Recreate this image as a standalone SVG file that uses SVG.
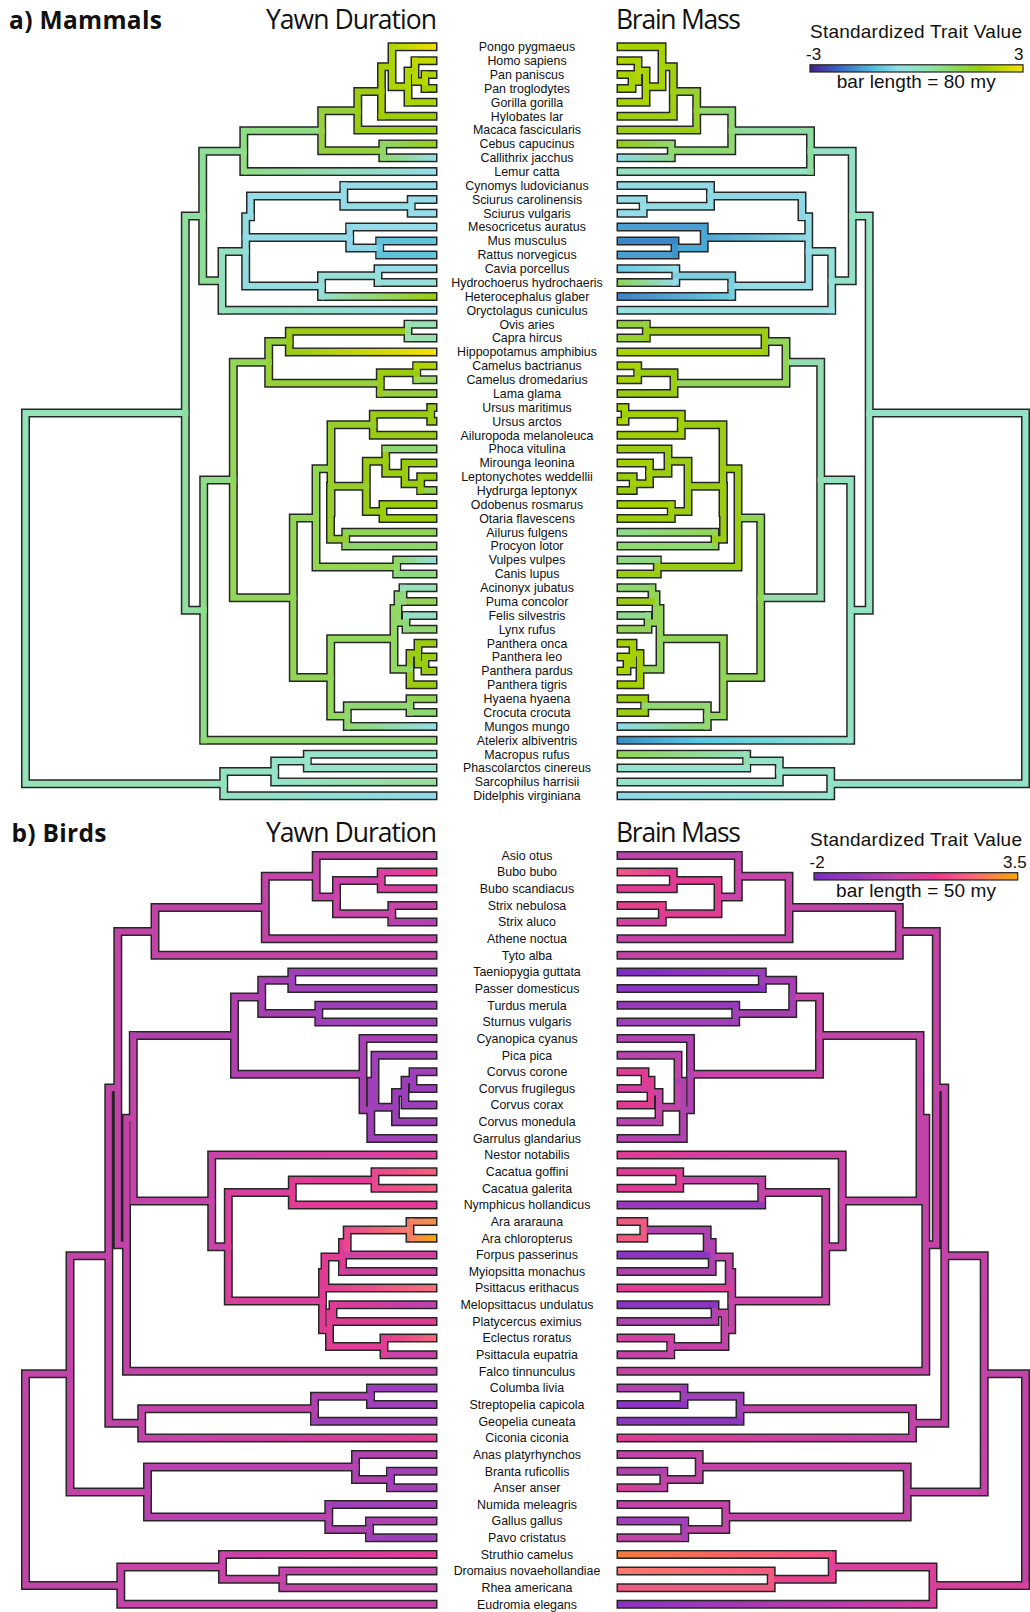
<svg xmlns="http://www.w3.org/2000/svg" width="1030" height="1612" viewBox="0 0 1030 1612">
<style>
.o{fill:none;stroke:#262626;stroke-width:9;stroke-linecap:square}
.c path{fill:none;stroke-width:6;stroke-linecap:square}
.lab text{font-family:"Liberation Sans",Arial,sans-serif;font-size:12.4px;text-anchor:middle;fill:#111}
.ttl{font-family:"Open Sans","DejaVu Sans",sans-serif;font-size:26.5px;fill:#111}
.bold{font-family:"Open Sans","DejaVu Sans",sans-serif;font-weight:700;font-size:24.5px;fill:#111}
.leg{font-family:"Liberation Sans",Arial,sans-serif;font-size:19px;fill:#111}
.num{font-family:"Liberation Sans",Arial,sans-serif;font-size:17px;fill:#111}
</style>
<defs>
<linearGradient id="gm"><stop offset="0" stop-color="#46208c"/><stop offset="0.15" stop-color="#3b6cc4"/><stop offset="0.3" stop-color="#55bfdc"/><stop offset="0.42" stop-color="#95dfe6"/><stop offset="0.55" stop-color="#8fe3b0"/><stop offset="0.68" stop-color="#8cd860"/><stop offset="0.8" stop-color="#9acc10"/><stop offset="0.9" stop-color="#c8d800"/><stop offset="1" stop-color="#f5e100"/></linearGradient>
<linearGradient id="gbird"><stop offset="0" stop-color="#7a2dc0"/><stop offset="0.25" stop-color="#a040b8"/><stop offset="0.45" stop-color="#c844a8"/><stop offset="0.6" stop-color="#e8388e"/><stop offset="0.78" stop-color="#f8687a"/><stop offset="1" stop-color="#f5a800"/></linearGradient>
<linearGradient id="gl1"><stop offset="0" stop-color="#aed400"/><stop offset="1" stop-color="#f2df00"/></linearGradient>
<linearGradient id="gl2"><stop offset="0" stop-color="#90d668"/><stop offset="1" stop-color="#9acc14"/></linearGradient>
<linearGradient id="gl3"><stop offset="0" stop-color="#90d668"/><stop offset="1" stop-color="#95dde8"/></linearGradient>
<linearGradient id="gl4"><stop offset="0" stop-color="#8fdc84"/><stop offset="1" stop-color="#95dde8"/></linearGradient>
<linearGradient id="gl5"><stop offset="0" stop-color="#95dfd0"/><stop offset="1" stop-color="#9acc10"/></linearGradient>
<linearGradient id="gl6"><stop offset="0" stop-color="#92e0b8"/><stop offset="1" stop-color="#95dde8"/></linearGradient>
<linearGradient id="gl7"><stop offset="0" stop-color="#9acc14"/><stop offset="1" stop-color="#f5e000"/></linearGradient>
<linearGradient id="gl8"><stop offset="0" stop-color="#8fd86a"/><stop offset="1" stop-color="#95dde0"/></linearGradient>
<linearGradient id="gl9"><stop offset="0" stop-color="#8fd870"/><stop offset="1" stop-color="#95dde8"/></linearGradient>
<linearGradient id="gl10"><stop offset="0" stop-color="#95e3c8"/><stop offset="1" stop-color="#9adc98"/></linearGradient>
<linearGradient id="gl11"><stop offset="0" stop-color="#93e2c0"/><stop offset="1" stop-color="#8ed8e8"/></linearGradient>
<linearGradient id="gr1"><stop offset="0" stop-color="#9acc10"/><stop offset="1" stop-color="#8fd870"/></linearGradient>
<linearGradient id="gr2"><stop offset="0" stop-color="#8ed8e8"/><stop offset="1" stop-color="#90d890"/></linearGradient>
<linearGradient id="gr3"><stop offset="0" stop-color="#8fd456"/><stop offset="1" stop-color="#95dde8"/></linearGradient>
<linearGradient id="gr4"><stop offset="0" stop-color="#3f80c4"/><stop offset="1" stop-color="#70cce0"/></linearGradient>
<linearGradient id="gr5"><stop offset="0" stop-color="#3a8fc4"/><stop offset="0.35" stop-color="#5cc8e0"/><stop offset="1" stop-color="#95e3d0"/></linearGradient>
<linearGradient id="gr6"><stop offset="0" stop-color="#8fdc90"/><stop offset="1" stop-color="#92d456"/></linearGradient>
<linearGradient id="gr7"><stop offset="0" stop-color="#8ed8e8"/><stop offset="1" stop-color="#92d870"/></linearGradient>
<linearGradient id="gr8"><stop offset="0" stop-color="#92d456"/><stop offset="1" stop-color="#95e0c0"/></linearGradient>
<linearGradient id="gr9"><stop offset="0" stop-color="#8ed8e8"/><stop offset="1" stop-color="#95e3cc"/></linearGradient>
<linearGradient id="gr10"><stop offset="0" stop-color="#6cc8e0"/><stop offset="1" stop-color="#95dde8"/></linearGradient>
<linearGradient id="gr11"><stop offset="0" stop-color="#4aa8d4"/><stop offset="1" stop-color="#8ed8e6"/></linearGradient>
<linearGradient id="gb1"><stop offset="0" stop-color="#d840a0"/><stop offset="1" stop-color="#ec3c8e"/></linearGradient>
<linearGradient id="gb2"><stop offset="0" stop-color="#c844a8"/><stop offset="1" stop-color="#e0409a"/></linearGradient>
<linearGradient id="gb3"><stop offset="0" stop-color="#e84890"/><stop offset="1" stop-color="#f5607a"/></linearGradient>
<linearGradient id="gb4"><stop offset="0" stop-color="#e84890"/><stop offset="1" stop-color="#f25c80"/></linearGradient>
<linearGradient id="gb5"><stop offset="0" stop-color="#e84890"/><stop offset="1" stop-color="#f5806a"/></linearGradient>
<linearGradient id="gb6"><stop offset="0" stop-color="#f5806a"/><stop offset="1" stop-color="#f29040"/></linearGradient>
<linearGradient id="gb7"><stop offset="0" stop-color="#f5806a"/><stop offset="1" stop-color="#f5a800"/></linearGradient>
<linearGradient id="gb8"><stop offset="0" stop-color="#e03c94"/><stop offset="1" stop-color="#f5707a"/></linearGradient>
<linearGradient id="gb9"><stop offset="0" stop-color="#e03c94"/><stop offset="1" stop-color="#b842ae"/></linearGradient>
<linearGradient id="gb10"><stop offset="0" stop-color="#e03c94"/><stop offset="1" stop-color="#f5687a"/></linearGradient>
<linearGradient id="gb11"><stop offset="0" stop-color="#c244a8"/><stop offset="1" stop-color="#e03c94"/></linearGradient>
<linearGradient id="gb12"><stop offset="0" stop-color="#c844a8"/><stop offset="1" stop-color="#e03c94"/></linearGradient>
<linearGradient id="gc1"><stop offset="0" stop-color="#f05a86"/><stop offset="1" stop-color="#e03c94"/></linearGradient>
<linearGradient id="gc2"><stop offset="0" stop-color="#7a2dbf"/><stop offset="1" stop-color="#9c3eba"/></linearGradient>
<linearGradient id="gc3"><stop offset="0" stop-color="#e03c94"/><stop offset="1" stop-color="#c844a8"/></linearGradient>
<linearGradient id="gc4"><stop offset="0" stop-color="#e03c94"/><stop offset="1" stop-color="#c244a8"/></linearGradient>
<linearGradient id="gc5"><stop offset="0" stop-color="#e03c94"/><stop offset="1" stop-color="#c044a8"/></linearGradient>
<linearGradient id="gc6"><stop offset="0" stop-color="#f27a40"/><stop offset="1" stop-color="#f0508a"/></linearGradient>
<linearGradient id="gc7"><stop offset="0" stop-color="#fb7a6a"/><stop offset="1" stop-color="#f05a80"/></linearGradient>
<linearGradient id="gc8"><stop offset="0" stop-color="#8a35c0"/><stop offset="1" stop-color="#d040a0"/></linearGradient>
</defs>
<rect width="1030" height="1612" fill="#fff"/>

<g id="titles">
<text class="bold" x="9" y="29" textLength="153">a) Mammals</text>
<text class="ttl" x="266" y="29.3" textLength="171">Yawn Duration</text>
<text class="ttl" x="616" y="29.3" textLength="125">Brain Mass</text>
<text class="bold" x="11.5" y="841.5" textLength="95">b) Birds</text>
<text class="ttl" x="266" y="841.7" textLength="171">Yawn Duration</text>
<text class="ttl" x="616" y="841.7" textLength="125">Brain Mass</text>
</g>

<g id="legend-mammals">
<text class="leg" x="810" y="37.5" textLength="212">Standardized Trait Value</text>
<text class="num" x="806" y="60">-3</text>
<text class="num" x="1023.5" y="60" text-anchor="end">3</text>
<rect x="810" y="64.8" width="213" height="7.2" fill="url(#gm)" stroke="#222" stroke-width="1.2"/>
<text class="leg" x="836.7" y="88.3" textLength="159">bar length = 80 my</text>
</g>
<g id="legend-birds">
<text class="leg" x="810" y="846" textLength="212">Standardized Trait Value</text>
<text class="num" x="809.5" y="868.3">-2</text>
<text class="num" x="1026.7" y="868.3" text-anchor="end">3.5</text>
<rect x="814" y="872.7" width="203.7" height="7.3" fill="url(#gbird)" stroke="#222" stroke-width="1.2"/>
<text class="leg" x="836" y="896.7" textLength="160">bar length = 50 my</text>
</g>

<g id="connectors">
<g id="tree-mammals-yawn">
<path class="o" d="M425 74.5V88.4M415 60.7V81.5M408 71.1V102.3M392 46.8V86.7M381.5 66.75V116.2M357.8 91.5V130M382.8 143.9V157.8M321.7 110.75V150.85M243.8 130.8V171.6M411.2 199.4V213.2M343.8 185.5V206.3M379.7 241V254.9M349.7 227.1V247.95M250.5 195.9V216.7M378 268.7V282.6M321.5 275.65V296.5M245.7 216.7V286.1M222 251.4V310.3M202.7 151.2V280.85M408 324.2V338.1M289.3 331.15V351.9M416.7 365.8V379.7M380.3 372.75V393.6M268.7 341.5V383.2M430.7 407.4V421.3M373.3 414.35V435.2M420.7 476.8V490.6M405 462.9V483.7M385.7 449V473.3M383 504.5V518.4M366.3 461.15V511.45M345.7 532.3V546.1M330.5 486.3V539.2M331 424.8V512.75M396.7 560V573.9M316 468.8V566.95M403 587.7V601.6M406 615.5V629.3M398 594.65V622.4M425 657.1V671M418 643.2V664.05M410 653.6V684.8M394 608.5V669.2M410 698.7V712.6M347.3 705.65V726.4M330.7 638.85V716M293.3 517.9V677.4M233.3 362.35V597.65M203.7 480V740.3M185.3 216V610.15M307.3 754.2V768M274.7 761.1V781.9M223.7 771.5V795.8M25.5 413.1V783.65
M415 81.5H425M408 71.1H415M392 86.7H408M381.5 66.75H392M357.8 91.5H381.5M321.7 110.75H357.8M321.7 150.85H382.8M243.8 130.8H321.7M343.8 206.3H411.2M349.7 247.95H379.7M250.5 195.9H343.8M245.7 237.5H349.7M321.5 275.65H378M245.7 216.7H250.5M245.7 286.1H321.5M222 251.4H245.7M202.7 151.2H243.8M202.7 280.85H222M289.3 331.15H408M380.3 372.75H416.7M268.7 341.5H289.3M268.7 383.2H380.3M373.3 414.35H430.7M405 483.7H420.7M385.7 473.3H405M366.3 461.15H385.7M366.3 511.45H383M330.5 486.3H366.3M330.5 539.2H345.7M331 424.8H373.3M316 468.8H331M316 566.95H396.7M398 594.65H403M398 622.4H406M418 664.05H425M410 653.6H418M394 608.5H398M394 669.2H410M347.3 705.65H410M330.7 638.85H394M330.7 716H347.3M293.3 517.9H316M293.3 677.4H330.7M233.3 362.35H268.7M233.3 597.65H293.3M203.7 480H233.3M185.3 216H202.7M185.3 610.15H203.7M274.7 761.1H307.3M223.7 771.5H274.7M25.5 413.1H185.3M25.5 783.65H223.7
M392 46.8H433M415 60.7H433M425 74.5H433M425 88.4H433M408 102.3H433M381.5 116.2H433M357.8 130H433M382.8 143.9H433M382.8 157.8H433M243.8 171.6H433M343.8 185.5H433M411.2 199.4H433M411.2 213.2H433M349.7 227.1H433M379.7 241H433M379.7 254.9H433M378 268.7H433M378 282.6H433M321.5 296.5H433M222 310.3H433M408 324.2H433M408 338.1H433M289.3 351.9H433M416.7 365.8H433M416.7 379.7H433M380.3 393.6H433M430.7 407.4H433M430.7 421.3H433M373.3 435.2H433M385.7 449H433M405 462.9H433M420.7 476.8H433M420.7 490.6H433M383 504.5H433M383 518.4H433M345.7 532.3H433M345.7 546.1H433M396.7 560H433M396.7 573.9H433M403 587.7H433M403 601.6H433M406 615.5H433M406 629.3H433M418 643.2H433M425 657.1H433M425 671H433M410 684.8H433M410 698.7H433M410 712.6H433M347.3 726.4H433M203.7 740.3H433M307.3 754.2H433M307.3 768H433M274.7 781.9H433M223.7 795.8H433"/>
<g class="c">
<path stroke="#93e2b8" d="M25.5 413.1V783.65M25.5 413.1H185.3M25.5 783.65H223.7"/>
<path stroke="#8fdea0" d="M185.3 216V610.15M185.3 216H202.7M185.3 610.15H203.7"/>
<path stroke="#8fde98" d="M202.7 151.2V280.85M202.7 151.2H243.8M202.7 280.85H222"/>
<path stroke="#8fdc84" d="M243.8 130.8V171.6M243.8 130.8H321.7"/>
<path stroke="#96d040" d="M321.7 110.75V150.85M321.7 110.75H357.8M321.7 150.85H382.8M380.3 393.6H433"/>
<path stroke="#9ecd10" d="M357.8 91.5V130M357.8 91.5H381.5"/>
<path stroke="#98cc10" d="M357.8 130H433"/>
<path stroke="#a6d000" d="M381.5 66.75V116.2M381.5 66.75H392"/>
<path stroke="#a0ce00" d="M381.5 116.2H433"/>
<path stroke="#aed400" d="M392 46.8V86.7M392 86.7H408"/>
<path stroke="#b0d600" d="M408 71.1V102.3M408 71.1H415M416.7 365.8H433"/>
<path stroke="#aad400" d="M408 102.3H433M425 74.5H433M416.7 365.8V379.7"/>
<path stroke="#b5d700" d="M415 60.7V81.5M415 81.5H425"/>
<path stroke="#c0da00" d="M415 60.7H433"/>
<path stroke="#b8d800" d="M425 74.5V88.4"/>
<path stroke="#a4d000" d="M425 88.4H433"/>
<path stroke="#90d668" d="M382.8 143.9V157.8"/>
<path stroke="#92e0c0" d="M222 251.4V310.3M222 251.4H245.7"/>
<path stroke="#93dde0" d="M245.7 216.7V286.1M245.7 216.7H250.5M245.7 286.1H321.5"/>
<path stroke="#93dce8" d="M250.5 195.9V216.7M250.5 195.9H343.8M245.7 237.5H349.7M343.8 185.5V206.3M343.8 206.3H411.2"/>
<path stroke="#95dde8" d="M411.2 199.4V213.2M343.8 185.5H433M411.2 199.4H433M411.2 213.2H433M349.7 227.1H433M378 268.7H433M378 268.7V282.6"/>
<path stroke="#8cd8e8" d="M349.7 227.1V247.95M349.7 247.95H379.7"/>
<path stroke="#6ec8e0" d="M379.7 241V254.9"/>
<path stroke="#60c3dc" d="M379.7 241H433M379.7 254.9H433"/>
<path stroke="#95dfd8" d="M321.5 275.65V296.5M321.5 275.65H378"/>
<path stroke="#95e0d8" d="M378 282.6H433"/>
<path stroke="#8fdc8a" d="M203.7 480V740.3M203.7 480H233.3"/>
<path stroke="#92d870" d="M203.7 740.3H433M398 594.65V622.4M398 594.65H403M398 622.4H406M406 629.3H433"/>
<path stroke="#92d65a" d="M233.3 362.35V597.65M233.3 362.35H268.7M233.3 597.65H293.3M330.7 638.85V716M330.7 638.85H394M330.7 716H347.3"/>
<path stroke="#96d03a" d="M268.7 341.5V383.2M268.7 341.5H289.3M268.7 383.2H380.3"/>
<path stroke="#9acc14" d="M289.3 331.15V351.9M289.3 331.15H408M380.3 372.75V393.6M380.3 372.75H416.7M373.3 414.35V435.2M373.3 414.35H430.7M373.3 435.2H433M366.3 461.15V511.45M366.3 461.15H385.7M366.3 511.45H383M410 653.6V684.8M410 653.6H418M410 684.8H433"/>
<path stroke="#98dc98" d="M408 324.2V338.1"/>
<path stroke="#9ae0b0" d="M408 324.2H433M408 338.1H433"/>
<path stroke="#9cd860" d="M416.7 379.7H433"/>
<path stroke="#92d456" d="M293.3 517.9V677.4M293.3 517.9H316M293.3 677.4H330.7M345.7 532.3V546.1M345.7 532.3H433M420.7 490.6H433M403 601.6H433M410 698.7V712.6M410 698.7H433"/>
<path stroke="#93d450" d="M316 468.8V566.95M316 468.8H331M316 566.95H396.7"/>
<path stroke="#98ce2a" d="M331 424.8V512.75M331 424.8H373.3M330.5 486.3V539.2M330.5 486.3H366.3M330.5 539.2H345.7"/>
<path stroke="#9acc10" d="M430.7 407.4V421.3M430.7 407.4H433M430.7 421.3H433M385.7 449V473.3M385.7 473.3H405M405 462.9V483.7M405 483.7H420.7M405 462.9H433M420.7 476.8V490.6M420.7 476.8H433M383 504.5V518.4M383 504.5H433M383 518.4H433M418 643.2V664.05M418 664.05H425M418 643.2H433M425 657.1V671M425 657.1H433M425 671H433"/>
<path stroke="#8fd870" d="M385.7 449H433M410 712.6H433M347.3 705.65V726.4M347.3 705.65H410"/>
<path stroke="#8fd46a" d="M345.7 546.1H433"/>
<path stroke="#8fd86a" d="M396.7 560V573.9"/>
<path stroke="#8fd880" d="M396.7 573.9H433"/>
<path stroke="#90d860" d="M394 608.5V669.2M394 608.5H398M394 669.2H410"/>
<path stroke="#90d880" d="M403 587.7V601.6M406 615.5V629.3"/>
<path stroke="#98e0b8" d="M403 587.7H433"/>
<path stroke="#95e0c8" d="M406 615.5H433"/>
<path stroke="#93e2c0" d="M223.7 771.5V795.8M223.7 771.5H274.7"/>
<path stroke="#95e3c8" d="M274.7 761.1V781.9M274.7 761.1H307.3"/>
<path stroke="#98e3cc" d="M307.3 754.2V768M307.3 754.2H433M307.3 768H433"/>
</g>
<g id="tips-mammals-yawn">
<rect x="392" y="43.8" width="44" height="6" fill="url(#gl1)"/>
<rect x="382.8" y="140.9" width="53.2" height="6" fill="url(#gl2)"/>
<rect x="382.8" y="154.8" width="53.2" height="6" fill="url(#gl3)"/>
<rect x="243.8" y="168.6" width="192.2" height="6" fill="url(#gl4)"/>
<rect x="321.5" y="293.5" width="114.5" height="6" fill="url(#gl5)"/>
<rect x="222" y="307.3" width="214" height="6" fill="url(#gl6)"/>
<rect x="289.3" y="348.9" width="146.7" height="6" fill="url(#gl7)"/>
<rect x="396.7" y="557" width="39.3" height="6" fill="url(#gl8)"/>
<rect x="347.3" y="723.4" width="88.7" height="6" fill="url(#gl9)"/>
<rect x="274.7" y="778.9" width="161.3" height="6" fill="url(#gl10)"/>
<rect x="223.7" y="792.8" width="212.3" height="6" fill="url(#gl11)"/>
</g>
</g>

<g id="tree-mammals-brain">
<path class="o" d="M632 74.5V88.4M638 60.7V81.45M646 71.1V102.3M662 46.8V86.7M673.3 66.75V116.2M696.7 91.5V130M671.3 143.9V157.8M731.7 110.75V150.85M810.5 130.8V171.6M643.2 199.4V213.2M710.5 185.5V206.3M675 241V254.9M704.2 227.1V247.95M802 195.9V216.7M675.8 268.7V282.6M731.7 275.65V296.5M808.7 216.7V286.1M831.7 251.4V310.3M852.2 151.2V280.85M646.3 324.2V338.1M765 331.15V351.9M637.7 365.8V379.7M674 372.75V393.6M786 341.5V383.2M625 407.4V421.3M681.3 414.35V435.2M633.2 476.8V490.6M649.5 462.9V483.7M668 449V473.3M671.3 504.5V518.4M688 461.15V511.45M715 532.3V546.1M723.5 486.3V539.2M723 424.8V512.75M657.3 560V573.9M738 468.8V566.95M652 587.7V601.6M648 615.5V629.3M656 594.65V622.4M627 657.1V671M633 643.2V664.05M640 653.6V684.8M660 608.5V669.2M644.7 698.7V712.6M707.3 705.65V726.4M723.3 638.85V716M760.7 517.9V677.4M820.7 362.35V597.65M850.7 480V740.3M869.2 216V610.15M746.7 754.2V768M779.3 761.1V781.9M830.7 771.5V795.8M1025.5 413.1V783.65
M638 81.45H632M646 71.1H638M662 86.7H646M673.3 66.75H662M696.7 91.5H673.3M731.7 110.75H696.7M731.7 150.85H671.3M810.5 130.8H731.7M710.5 206.3H643.2M704.2 247.95H675M802 195.9H710.5M808.7 237.5H704.2M731.7 275.65H675.8M808.7 216.7H802M808.7 286.1H731.7M831.7 251.4H808.7M852.2 151.2H810.5M852.2 280.85H831.7M765 331.15H646.3M674 372.75H637.7M786 341.5H765M786 383.2H674M681.3 414.35H625M649.5 483.7H633.2M668 473.3H649.5M688 461.15H668M688 511.45H671.3M723.5 486.3H688M723.5 539.2H715M723 424.8H681.3M738 468.8H723M738 566.95H657.3M656 594.65H652M656 622.4H648M633 664.05H627M640 653.6H633M660 608.5H656M660 669.2H640M707.3 705.65H644.7M723.3 638.85H660M723.3 716H707.3M760.7 517.9H738M760.7 677.4H723.3M820.7 362.35H786M820.7 597.65H760.7M850.7 480H820.7M869.2 216H852.2M869.2 610.15H850.7M779.3 761.1H746.7M830.7 771.5H779.3M1025.5 413.1H869.2M1025.5 783.65H830.7
M662 46.8H621M638 60.7H621M632 74.5H621M632 88.4H621M646 102.3H621M673.3 116.2H621M696.7 130H621M671.3 143.9H621M671.3 157.8H621M810.5 171.6H621M710.5 185.5H621M643.2 199.4H621M643.2 213.2H621M704.2 227.1H621M675 241H621M675 254.9H621M675.8 268.7H621M675.8 282.6H621M731.7 296.5H621M831.7 310.3H621M646.3 324.2H621M646.3 338.1H621M765 351.9H621M637.7 365.8H621M637.7 379.7H621M674 393.6H621M625 407.4H621M625 421.3H621M681.3 435.2H621M668 449H621M649.5 462.9H621M633.2 476.8H621M633.2 490.6H621M671.3 504.5H621M671.3 518.4H621M715 532.3H621M715 546.1H621M657.3 560H621M657.3 573.9H621M652 587.7H621M652 601.6H621M648 615.5H621M648 629.3H621M633 643.2H621M627 657.1H621M627 671H621M640 684.8H621M644.7 698.7H621M644.7 712.6H621M707.3 726.4H621M850.7 740.3H621M746.7 754.2H621M746.7 768H621M779.3 781.9H621M830.7 795.8H621"/>
<g class="c">
<path stroke="#93e2c8" d="M1025.5 413.1V783.65M1025.5 413.1H869.2M1025.5 783.65H830.7M852.2 151.2V280.85M852.2 151.2H810.5M852.2 280.85H831.7M830.7 771.5V795.8M830.7 771.5H779.3"/>
<path stroke="#93e2c0" d="M869.2 216V610.15M869.2 216H852.2M869.2 610.15H850.7M850.7 480V740.3M850.7 480H820.7M810.5 171.6H621"/>
<path stroke="#90dca0" d="M810.5 130.8V171.6M810.5 130.8H731.7"/>
<path stroke="#90d870" d="M731.7 110.75V150.85M731.7 110.75H696.7M731.7 150.85H671.3M671.3 143.9V157.8M715 546.1H621M652 587.7H621"/>
<path stroke="#98d030" d="M696.7 91.5V130M696.7 91.5H673.3M646.3 338.1H621"/>
<path stroke="#9acc18" d="M696.7 130H621"/>
<path stroke="#a0cf10" d="M673.3 66.75V116.2M673.3 66.75H662M673.3 116.2H621"/>
<path stroke="#a6d300" d="M662 46.8V86.7M662 86.7H646M662 46.8H621"/>
<path stroke="#aad400" d="M646 71.1V102.3M646 71.1H638M646 102.3H621"/>
<path stroke="#aed500" d="M638 60.7V81.45M638 81.45H632M638 60.7H621"/>
<path stroke="#a8d400" d="M632 74.5V88.4M632 74.5H621M632 88.4H621M765 351.9H621M637.7 365.8V379.7M637.7 365.8H621M637.7 379.7H621M625 407.4V421.3M625 407.4H621M625 421.3H621M627 657.1V671M627 657.1H621M627 671H621"/>
<path stroke="#95e0d8" d="M831.7 251.4V310.3M831.7 251.4H808.7"/>
<path stroke="#98e0e4" d="M831.7 310.3H621"/>
<path stroke="#93dce6" d="M808.7 216.7V286.1M808.7 216.7H802M808.7 286.1H731.7M710.5 185.5V206.3M710.5 206.3H643.2M710.5 185.5H621"/>
<path stroke="#8ed8e6" d="M802 195.9V216.7M802 195.9H710.5"/>
<path stroke="#95dde8" d="M643.2 199.4V213.2M643.2 199.4H621M643.2 213.2H621M675.8 268.7V282.6"/>
<path stroke="#4aa8d4" d="M704.2 227.1V247.95M704.2 247.95H675"/>
<path stroke="#4a9ed0" d="M704.2 227.1H621M675 254.9H621"/>
<path stroke="#3f95cc" d="M675 241V254.9"/>
<path stroke="#3f88c8" d="M675 241H621"/>
<path stroke="#7ccfe0" d="M731.7 275.65V296.5M731.7 275.65H675.8"/>
<path stroke="#95dcb0" d="M820.7 362.35V597.65M820.7 362.35H786M820.7 597.65H760.7"/>
<path stroke="#92d456" d="M786 341.5V383.2M786 341.5H765M786 383.2H674M760.7 517.9V677.4M760.7 517.9H738M760.7 677.4H723.3M715 532.3V546.1M723.3 638.85V716M723.3 638.85H660M723.3 716H707.3M660 608.5V669.2M660 608.5H656M660 669.2H640M656 594.65V622.4M656 594.65H652M656 622.4H648M652 587.7V601.6M648 615.5V629.3M648 629.3H621"/>
<path stroke="#9acc14" d="M765 331.15V351.9M765 331.15H646.3M646.3 324.2V338.1M674 372.75V393.6M674 372.75H637.7M674 393.6H621M738 468.8V566.95M738 468.8H723M738 566.95H657.3M723 424.8V512.75M723 424.8H681.3M723.5 486.3V539.2M723.5 486.3H688M723.5 539.2H715M688 461.15V511.45M688 461.15H668M688 511.45H671.3M668 449V473.3M668 473.3H649.5M668 449H621M633.2 476.8V490.6M633.2 476.8H621M633.2 490.6H621M657.3 560V573.9M657.3 573.9H621M652 601.6H621M644.7 698.7V712.6M644.7 698.7H621M644.7 712.6H621"/>
<path stroke="#96d040" d="M646.3 324.2H621"/>
<path stroke="#a0d000" d="M681.3 414.35V435.2M681.3 414.35H625M681.3 435.2H621"/>
<path stroke="#a4d000" d="M649.5 462.9V483.7M649.5 483.7H633.2M649.5 462.9H621M671.3 504.5H621M640 653.6V684.8M640 653.6H633M640 684.8H621M633 643.2V664.05M633 664.05H627M633 643.2H621"/>
<path stroke="#9fce10" d="M671.3 504.5V518.4M671.3 518.4H621"/>
<path stroke="#8fd880" d="M657.3 560H621"/>
<path stroke="#8fdc90" d="M648 615.5H621"/>
<path stroke="#92d870" d="M707.3 705.65V726.4M707.3 705.65H644.7"/>
<path stroke="#95e3c8" d="M779.3 761.1V781.9M779.3 761.1H746.7M779.3 781.9H621"/>
<path stroke="#93dea8" d="M746.7 754.2V768"/>
<path stroke="#95e3cc" d="M746.7 768H621"/>
</g>
<g id="tips-mammals-brain">
<rect x="618" y="140.9" width="53.3" height="6" fill="url(#gr1)"/>
<rect x="618" y="154.8" width="53.3" height="6" fill="url(#gr2)"/>
<rect x="618" y="279.6" width="57.8" height="6" fill="url(#gr3)"/>
<rect x="618" y="293.5" width="113.7" height="6" fill="url(#gr4)"/>
<rect x="618" y="265.7" width="57.8" height="6" fill="url(#gr10)"/>
<rect x="704.2" y="234.5" width="104.5" height="6" fill="url(#gr11)"/>
<rect x="618" y="737.3" width="232.7" height="6" fill="url(#gr5)"/>
<rect x="618" y="529.3" width="97" height="6" fill="url(#gr6)"/>
<rect x="618" y="723.4" width="89.3" height="6" fill="url(#gr7)"/>
<rect x="618" y="751.2" width="128.7" height="6" fill="url(#gr8)"/>
<rect x="618" y="792.8" width="212.7" height="6" fill="url(#gr9)"/>
</g>
</g>

<g id="tree-birds-yawn">
<path class="o" d="M381.2 872.1V888.8M391.8 905.4V922.1M336.5 880.45V913.75M316.2 855.5V897.1M265.3 876.3V938.7M155 907.5V955.3M291.8 972V988.6M318.8 1005.3V1021.9M261.7 980.3V1013.6M413 1071.8V1088.5M405 1080.15V1105.1M395.5 1092.6V1121.7M375 1055.2V1107.15M370.8 1081.2V1138.4M363 1038.5V1109.8M234.5 996.95V1074.15M375 1171.7V1188.3M292.3 1180V1204.9M410 1221.6V1238.2M347.2 1229.9V1254.9M342.5 1242.4V1271.5M325 1256.95V1288.1M333 1304.8V1321.4M384 1338.1V1354.7M329.5 1313.1V1346.4M322.5 1272.5V1329.75M228.3 1192.45V1301.1M211.7 1155V1246.8M133.3 1035.55V1200.9M126.5 1118.2V1371.3M117.8 931.4V1244.75M370.5 1388V1404.6M314.5 1396.3V1421.3M141.7 1408.8V1437.9M108.8 1088.1V1423.35M390.5 1471.2V1487.8M355.5 1454.5V1479.5M369.5 1521.1V1537.7M328.8 1504.5V1529.4M147.5 1467V1516.95M70 1255.7V1492M282.8 1571V1587.7M222.5 1554.4V1579.35M120.8 1566.9V1604.3M25.5 1373.85V1585.6
M336.5 880.45H381.2M336.5 913.75H391.8M316.2 897.1H336.5M265.3 876.3H316.2M155 907.5H265.3M117.8 931.4H155M261.7 980.3H291.8M261.7 1013.6H318.8M405 1080.15H413M395.5 1092.6H405M375 1107.15H395.5M370.8 1081.2H375M363 1109.8H370.8M234.5 996.95H261.7M234.5 1074.15H363M133.3 1035.55H234.5M292.3 1180H375M228.3 1192.45H292.3M347.2 1229.9H410M342.5 1242.4H347.2M325 1256.95H342.5M329.5 1313.1H333M329.5 1346.4H384M322.5 1272.5H325M322.5 1329.75H329.5M228.3 1301.1H322.5M211.7 1246.8H228.3M133.3 1200.9H211.7M126.5 1118.2H133.3M117.8 1244.75H126.5M108.8 1088.1H117.8M314.5 1396.3H370.5M141.7 1408.8H314.5M108.8 1423.35H141.7M70 1255.7H108.8M355.5 1479.5H390.5M147.5 1467H355.5M328.8 1529.4H369.5M147.5 1516.95H328.8M70 1492H147.5M222.5 1579.35H282.8M120.8 1566.9H222.5M25.5 1373.85H70M25.5 1585.6H120.8
M316.2 855.5H433M381.2 872.1H433M381.2 888.8H433M391.8 905.4H433M391.8 922.1H433M265.3 938.7H433M155 955.3H433M291.8 972H433M291.8 988.6H433M318.8 1005.3H433M318.8 1021.9H433M363 1038.5H433M375 1055.2H433M413 1071.8H433M413 1088.5H433M405 1105.1H433M395.5 1121.7H433M370.8 1138.4H433M211.7 1155H433M375 1171.7H433M375 1188.3H433M292.3 1204.9H433M410 1221.6H433M410 1238.2H433M347.2 1254.9H433M342.5 1271.5H433M325 1288.1H433M333 1304.8H433M333 1321.4H433M384 1338.1H433M384 1354.7H433M126.5 1371.3H433M370.5 1388H433M370.5 1404.6H433M314.5 1421.3H433M141.7 1437.9H433M355.5 1454.5H433M390.5 1471.2H433M390.5 1487.8H433M328.8 1504.5H433M369.5 1521.1H433M369.5 1537.7H433M222.5 1554.4H433M282.8 1571H433M282.8 1587.7H433M120.8 1604.3H433"/>
<g class="c">
<path stroke="#c244a8" d="M25.5 1373.85V1585.6M25.5 1373.85H70M25.5 1585.6H120.8M70 1255.7V1492M70 1255.7H108.8M70 1492H147.5M108.8 1088.1V1423.35M108.8 1088.1H117.8M108.8 1423.35H141.7M117.8 931.4V1244.75M117.8 931.4H155M117.8 1244.75H126.5M155 907.5V955.3M155 907.5H265.3M155 955.3H433M265.3 876.3V938.7M265.3 876.3H316.2M265.3 938.7H433M316.2 855.5V897.1M316.2 897.1H336.5M316.2 855.5H433M126.5 1118.2V1371.3M126.5 1118.2H133.3M126.5 1371.3H433M133.3 1035.55V1200.9M133.3 1200.9H211.7M141.7 1408.8V1437.9M141.7 1408.8H314.5M120.8 1566.9V1604.3M120.8 1604.3H433M282.8 1571V1587.7M282.8 1571H433M282.8 1587.7H433"/>
<path stroke="#c844a8" d="M336.5 880.45V913.75M336.5 913.75H391.8M336.5 880.45H381.2M391.8 905.4V922.1M391.8 905.4H433M211.7 1155V1246.8M211.7 1246.8H228.3M222.5 1554.4V1579.35M222.5 1579.35H282.8M120.8 1566.9H222.5M384 1354.7H433"/>
<path stroke="#d840a0" d="M381.2 872.1V888.8M381.2 888.8H433"/>
<path stroke="#b242b0" d="M391.8 922.1H433"/>
<path stroke="#b042b0" d="M234.5 996.95V1074.15M234.5 996.95H261.7M234.5 1074.15H363M133.3 1035.55H234.5M355.5 1454.5V1479.5M355.5 1479.5H390.5M355.5 1454.5H433M328.8 1504.5V1529.4M328.8 1529.4H369.5M369.5 1521.1H433M314.5 1396.3V1421.3M314.5 1396.3H370.5"/>
<path stroke="#b842ae" d="M147.5 1467V1516.95M147.5 1467H355.5M147.5 1516.95H328.8"/>
<path stroke="#a840b4" d="M261.7 980.3V1013.6M261.7 980.3H291.8M261.7 1013.6H318.8M363 1038.5V1109.8M363 1109.8H370.8M363 1038.5H433M369.5 1521.1V1537.7"/>
<path stroke="#a040b8" d="M291.8 972V988.6M291.8 972H433M291.8 988.6H433M318.8 1005.3V1021.9M318.8 1005.3H433M318.8 1021.9H433M370.8 1081.2V1138.4M370.8 1081.2H375M370.8 1138.4H433M375 1055.2V1107.15M375 1107.15H395.5M375 1055.2H433M413 1071.8H433M314.5 1421.3H433M370.5 1388V1404.6M370.5 1404.6H433M390.5 1471.2V1487.8M328.8 1504.5H433M369.5 1537.7H433"/>
<path stroke="#9c3eba" d="M395.5 1092.6V1121.7M395.5 1092.6H405M395.5 1121.7H433M405 1080.15V1105.1M405 1080.15H413M405 1105.1H433M413 1071.8V1088.5M413 1088.5H433M370.5 1388H433"/>
<path stroke="#a440b6" d="M390.5 1471.2H433M390.5 1487.8H433"/>
<path stroke="#d8409c" d="M228.3 1192.45V1301.1M228.3 1192.45H292.3M228.3 1301.1H322.5"/>
<path stroke="#e03c94" d="M292.3 1180V1204.9M292.3 1180H375M292.3 1204.9H433M322.5 1272.5V1329.75M322.5 1272.5H325M322.5 1329.75H329.5M325 1256.95V1288.1M325 1256.95H342.5M342.5 1242.4V1271.5M342.5 1242.4H347.2M329.5 1313.1V1346.4M329.5 1313.1H333M329.5 1346.4H384M333 1304.8V1321.4M333 1321.4H433M384 1338.1V1354.7"/>
<path stroke="#e84890" d="M375 1171.7V1188.3M347.2 1229.9V1254.9"/>
<path stroke="#d040a0" d="M347.2 1254.9H433M342.5 1271.5H433"/>
<path stroke="#f07a60" d="M410 1221.6V1238.2"/>
</g>
<g id="tips-birds-yawn">
<rect x="381.2" y="869.1" width="54.8" height="6" fill="url(#gb1)"/>
<rect x="211.7" y="1152" width="224.3" height="6" fill="url(#gb2)"/>
<rect x="375" y="1168.7" width="61" height="6" fill="url(#gb3)"/>
<rect x="375" y="1185.3" width="61" height="6" fill="url(#gb4)"/>
<rect x="347.2" y="1226.9" width="62.8" height="6" fill="url(#gb5)"/>
<rect x="410" y="1218.6" width="26" height="6" fill="url(#gb6)"/>
<rect x="410" y="1235.2" width="26" height="6" fill="url(#gb7)"/>
<rect x="325" y="1285.1" width="111" height="6" fill="url(#gb8)"/>
<rect x="333" y="1301.8" width="103" height="6" fill="url(#gb9)"/>
<rect x="384" y="1335.1" width="52" height="6" fill="url(#gb10)"/>
<rect x="141.7" y="1434.9" width="294.3" height="6" fill="url(#gb11)"/>
<rect x="222.5" y="1551.4" width="213.5" height="6" fill="url(#gb12)"/>
</g>
</g>

<g id="tree-birds-brain">
<path class="o" d="M673.3 872.1V888.8M662.3 905.4V922.1M718 880.45V913.75M738.3 855.5V897.1M789 876.3V938.7M899.3 907.5V955.3M762.3 972V988.6M735.7 1005.3V1021.9M792.7 980.3V1013.6M645 1071.8V1088.5M651 1080.15V1105.1M659 1092.6V1121.7M678 1055.2V1107.15M683.3 1081.2V1138.4M690.5 1038.5V1109.8M819.5 996.95V1074.15M679.7 1171.7V1188.3M761.7 1180V1204.9M643.8 1221.6V1238.2M707.2 1229.9V1254.9M712.2 1242.4V1271.5M729.2 1256.95V1288.1M715 1304.8V1321.4M670.7 1338.1V1354.7M725 1313.1V1346.4M731.7 1272.5V1329.75M825.7 1192.45V1301.1M842.2 1155V1246.8M920 1035.55V1200.9M925.8 1118.2V1371.3M936.3 931.4V1244.75M684 1388V1404.6M740 1396.3V1421.3M912.5 1408.8V1437.9M944.8 1088.1V1423.35M663.8 1471.2V1487.8M699.2 1454.5V1479.5M684.7 1521.1V1537.7M725.8 1504.5V1529.4M907.2 1467V1516.95M984.2 1255.7V1492M771.2 1571V1587.7M832.2 1554.4V1579.35M933 1566.9V1604.3M1025.5 1373.85V1585.6
M718 880.45H673.3M718 913.75H662.3M738.3 897.1H718M789 876.3H738.3M899.3 907.5H789M936.3 931.4H899.3M792.7 980.3H762.3M792.7 1013.6H735.7M651 1080.15H645M659 1092.6H651M678 1107.15H659M683.3 1081.2H678M690.5 1109.8H683.3M819.5 996.95H792.7M819.5 1074.15H690.5M920 1035.55H819.5M761.7 1180H679.7M825.7 1192.45H761.7M707.2 1229.9H643.8M712.2 1242.4H707.2M729.2 1256.95H712.2M725 1313.1H715M725 1346.4H670.7M731.7 1272.5H729.2M731.7 1329.75H725M825.7 1301.1H731.7M842.2 1246.8H825.7M920 1200.9H842.2M925.8 1118.2H920M936.3 1244.75H925.8M944.8 1088.1H936.3M740 1396.3H684M912.5 1408.8H740M944.8 1423.35H912.5M984.2 1255.7H944.8M699.2 1479.5H663.8M907.2 1467H699.2M725.8 1529.4H684.7M907.2 1516.95H725.8M984.2 1492H907.2M832.2 1579.35H771.2M933 1566.9H832.2M1025.5 1373.85H984.2M1025.5 1585.6H933
M738.3 855.5H621M673.3 872.1H621M673.3 888.8H621M662.3 905.4H621M662.3 922.1H621M789 938.7H621M899.3 955.3H621M762.3 972H621M762.3 988.6H621M735.7 1005.3H621M735.7 1021.9H621M690.5 1038.5H621M678 1055.2H621M645 1071.8H621M645 1088.5H621M651 1105.1H621M659 1121.7H621M683.3 1138.4H621M842.2 1155H621M679.7 1171.7H621M679.7 1188.3H621M761.7 1204.9H621M643.8 1221.6H621M643.8 1238.2H621M707.2 1254.9H621M712.2 1271.5H621M729.2 1288.1H621M715 1304.8H621M715 1321.4H621M670.7 1338.1H621M670.7 1354.7H621M925.8 1371.3H621M684 1388H621M684 1404.6H621M740 1421.3H621M912.5 1437.9H621M699.2 1454.5H621M663.8 1471.2H621M663.8 1487.8H621M725.8 1504.5H621M684.7 1521.1H621M684.7 1537.7H621M832.2 1554.4H621M771.2 1571H621M771.2 1587.7H621M933 1604.3H621"/>
<g class="c">
<path stroke="#c244a8" d="M1025.5 1373.85V1585.6M1025.5 1373.85H984.2M984.2 1255.7V1492M984.2 1255.7H944.8M984.2 1492H907.2M944.8 1088.1V1423.35M944.8 1088.1H936.3M944.8 1423.35H912.5M936.3 931.4V1244.75M936.3 931.4H899.3M936.3 1244.75H925.8M899.3 907.5V955.3M899.3 907.5H789M899.3 955.3H621M789 876.3V938.7M789 876.3H738.3M789 938.7H621M920 1035.55V1200.9M920 1035.55H819.5M920 1200.9H842.2M925.8 1118.2V1371.3M925.8 1118.2H920M925.8 1371.3H621M912.5 1408.8V1437.9M912.5 1408.8H740M907.2 1467V1516.95M907.2 1467H699.2M907.2 1516.95H725.8M699.2 1454.5V1479.5M699.2 1479.5H663.8M699.2 1454.5H621M725.8 1504.5V1529.4M725.8 1529.4H684.7M725.8 1504.5H621M684.7 1537.7H621M731.7 1272.5V1329.75M731.7 1272.5H729.2M731.7 1329.75H725M729.2 1256.95V1288.1M729.2 1256.95H712.2M725 1313.1V1346.4M725 1313.1H715M725 1346.4H670.7M670.7 1354.7H621M663.8 1471.2V1487.8M678 1055.2V1107.15M678 1107.15H659M761.7 1180V1204.9M761.7 1180H679.7"/>
<path stroke="#c844a8" d="M738.3 855.5V897.1M738.3 897.1H718M842.2 1155V1246.8M842.2 1246.8H825.7M825.7 1192.45V1301.1M825.7 1192.45H761.7M825.7 1301.1H731.7M819.5 996.95V1074.15M819.5 996.95H792.7M819.5 1074.15H690.5M670.7 1338.1V1354.7M659 1092.6V1121.7M659 1092.6H651"/>
<path stroke="#b842ae" d="M738.3 855.5H621M678 1055.2H621M659 1121.7H621"/>
<path stroke="#e03c94" d="M718 880.45V913.75M718 880.45H673.3M718 913.75H662.3M673.3 872.1V888.8M673.3 888.8H621M662.3 905.4V922.1M651 1080.15V1105.1M651 1080.15H645M651 1105.1H621M645 1071.8V1088.5M645 1071.8H621M679.7 1171.7V1188.3M679.7 1171.7H621M679.7 1188.3H621M729.2 1288.1H621"/>
<path stroke="#e8408c" d="M662.3 905.4H621M832.2 1554.4V1579.35M832.2 1579.35H771.2"/>
<path stroke="#d040a0" d="M662.3 922.1H621M645 1088.5H621M670.7 1338.1H621"/>
<path stroke="#b042b0" d="M690.5 1038.5V1109.8M690.5 1109.8H683.3M690.5 1038.5H621M683.3 1081.2V1138.4M683.3 1081.2H678M683.3 1138.4H621M712.2 1242.4V1271.5M712.2 1242.4H707.2M712.2 1271.5H621M707.2 1229.9V1254.9M707.2 1229.9H643.8M715 1304.8V1321.4M715 1321.4H621M684 1388H621M663.8 1471.2H621"/>
<path stroke="#a840b4" d="M792.7 980.3V1013.6M792.7 980.3H762.3M792.7 1013.6H735.7M684.7 1521.1V1537.7"/>
<path stroke="#9c3eba" d="M762.3 972V988.6M684 1388V1404.6"/>
<path stroke="#a040b8" d="M735.7 1005.3V1021.9M735.7 1021.9H621M740 1396.3V1421.3M740 1396.3H684M684.7 1521.1H621"/>
<path stroke="#9838bc" d="M735.7 1005.3H621"/>
<path stroke="#8c35c0" d="M762.3 988.6H621M707.2 1254.9H621M715 1304.8H621M684 1404.6H621M740 1421.3H621"/>
<path stroke="#9a38bc" d="M761.7 1204.9H621"/>
<path stroke="#f05a80" d="M643.8 1221.6V1238.2M643.8 1221.6H621M643.8 1238.2H621M771.2 1571V1587.7M771.2 1587.7H621"/>
<path stroke="#d8409c" d="M933 1566.9V1604.3M933 1566.9H832.2M1025.5 1585.6H933"/>
</g>
<g id="tips-birds-brain">
<rect x="618" y="869.1" width="55.3" height="6" fill="url(#gc1)"/>
<rect x="618" y="969" width="144.3" height="6" fill="url(#gc2)"/>
<rect x="618" y="1152" width="224.2" height="6" fill="url(#gc3)"/>
<rect x="618" y="1434.9" width="294.5" height="6" fill="url(#gc4)"/>
<rect x="618" y="1484.8" width="45.8" height="6" fill="url(#gc5)"/>
<rect x="618" y="1551.4" width="214.2" height="6" fill="url(#gc6)"/>
<rect x="618" y="1568" width="153.2" height="6" fill="url(#gc7)"/>
<rect x="618" y="1601.3" width="315" height="6" fill="url(#gc8)"/>
</g>
</g>
</g>

<g id="labels-mammals" class="lab">
<text x="527" y="51.1">Pongo pygmaeus</text>
<text x="527" y="65">Homo sapiens</text>
<text x="527" y="78.8">Pan paniscus</text>
<text x="527" y="92.7">Pan troglodytes</text>
<text x="527" y="106.6">Gorilla gorilla</text>
<text x="527" y="120.5">Hylobates lar</text>
<text x="527" y="134.3">Macaca fascicularis</text>
<text x="527" y="148.2">Cebus capucinus</text>
<text x="527" y="162.1">Callithrix jacchus</text>
<text x="527" y="175.9">Lemur catta</text>
<text x="527" y="189.8">Cynomys ludovicianus</text>
<text x="527" y="203.7">Sciurus carolinensis</text>
<text x="527" y="217.5">Sciurus vulgaris</text>
<text x="527" y="231.4">Mesocricetus auratus</text>
<text x="527" y="245.3">Mus musculus</text>
<text x="527" y="259.2">Rattus norvegicus</text>
<text x="527" y="273">Cavia porcellus</text>
<text x="527" y="286.9">Hydrochoerus hydrochaeris</text>
<text x="527" y="300.8">Heterocephalus glaber</text>
<text x="527" y="314.6">Oryctolagus cuniculus</text>
<text x="527" y="328.5">Ovis aries</text>
<text x="527" y="342.4">Capra hircus</text>
<text x="527" y="356.2">Hippopotamus amphibius</text>
<text x="527" y="370.1">Camelus bactrianus</text>
<text x="527" y="384">Camelus dromedarius</text>
<text x="527" y="397.9">Lama glama</text>
<text x="527" y="411.7">Ursus maritimus</text>
<text x="527" y="425.6">Ursus arctos</text>
<text x="527" y="439.5">Ailuropoda melanoleuca</text>
<text x="527" y="453.3">Phoca vitulina</text>
<text x="527" y="467.2">Mirounga leonina</text>
<text x="527" y="481.1">Leptonychotes weddellii</text>
<text x="527" y="494.9">Hydrurga leptonyx</text>
<text x="527" y="508.8">Odobenus rosmarus</text>
<text x="527" y="522.7">Otaria flavescens</text>
<text x="527" y="536.6">Ailurus fulgens</text>
<text x="527" y="550.4">Procyon lotor</text>
<text x="527" y="564.3">Vulpes vulpes</text>
<text x="527" y="578.2">Canis lupus</text>
<text x="527" y="592">Acinonyx jubatus</text>
<text x="527" y="605.9">Puma concolor</text>
<text x="527" y="619.8">Felis silvestris</text>
<text x="527" y="633.6">Lynx rufus</text>
<text x="527" y="647.5">Panthera onca</text>
<text x="527" y="661.4">Panthera leo</text>
<text x="527" y="675.3">Panthera pardus</text>
<text x="527" y="689.1">Panthera tigris</text>
<text x="527" y="703">Hyaena hyaena</text>
<text x="527" y="716.9">Crocuta crocuta</text>
<text x="527" y="730.7">Mungos mungo</text>
<text x="527" y="744.6">Atelerix albiventris</text>
<text x="527" y="758.5">Macropus rufus</text>
<text x="527" y="772.3">Phascolarctos cinereus</text>
<text x="527" y="786.2">Sarcophilus harrisii</text>
<text x="527" y="800.1">Didelphis virginiana</text>
</g>

<g id="labels-birds" class="lab">
<text x="527" y="859.8">Asio otus</text>
<text x="527" y="876.4">Bubo bubo</text>
<text x="527" y="893.1">Bubo scandiacus</text>
<text x="527" y="909.7">Strix nebulosa</text>
<text x="527" y="926.4">Strix aluco</text>
<text x="527" y="943">Athene noctua</text>
<text x="527" y="959.6">Tyto alba</text>
<text x="527" y="976.3">Taeniopygia guttata</text>
<text x="527" y="992.9">Passer domesticus</text>
<text x="527" y="1009.6">Turdus merula</text>
<text x="527" y="1026.2">Sturnus vulgaris</text>
<text x="527" y="1042.8">Cyanopica cyanus</text>
<text x="527" y="1059.5">Pica pica</text>
<text x="527" y="1076.1">Corvus corone</text>
<text x="527" y="1092.8">Corvus frugilegus</text>
<text x="527" y="1109.4">Corvus corax</text>
<text x="527" y="1126">Corvus monedula</text>
<text x="527" y="1142.7">Garrulus glandarius</text>
<text x="527" y="1159.3">Nestor notabilis</text>
<text x="527" y="1176">Cacatua goffini</text>
<text x="527" y="1192.6">Cacatua galerita</text>
<text x="527" y="1209.2">Nymphicus hollandicus</text>
<text x="527" y="1225.9">Ara ararauna</text>
<text x="527" y="1242.5">Ara chloropterus</text>
<text x="527" y="1259.2">Forpus passerinus</text>
<text x="527" y="1275.8">Myiopsitta monachus</text>
<text x="527" y="1292.4">Psittacus erithacus</text>
<text x="527" y="1309.1">Melopsittacus undulatus</text>
<text x="527" y="1325.7">Platycercus eximius</text>
<text x="527" y="1342.4">Eclectus roratus</text>
<text x="527" y="1359">Psittacula eupatria</text>
<text x="527" y="1375.6">Falco tinnunculus</text>
<text x="527" y="1392.3">Columba livia</text>
<text x="527" y="1408.9">Streptopelia capicola</text>
<text x="527" y="1425.6">Geopelia cuneata</text>
<text x="527" y="1442.2">Ciconia ciconia</text>
<text x="527" y="1458.8">Anas platyrhynchos</text>
<text x="527" y="1475.5">Branta ruficollis</text>
<text x="527" y="1492.1">Anser anser</text>
<text x="527" y="1508.8">Numida meleagris</text>
<text x="527" y="1525.4">Gallus gallus</text>
<text x="527" y="1542">Pavo cristatus</text>
<text x="527" y="1558.7">Struthio camelus</text>
<text x="527" y="1575.3">Dromaius novaehollandiae</text>
<text x="527" y="1592">Rhea americana</text>
<text x="527" y="1608.6">Eudromia elegans</text>
</g>
</svg>
